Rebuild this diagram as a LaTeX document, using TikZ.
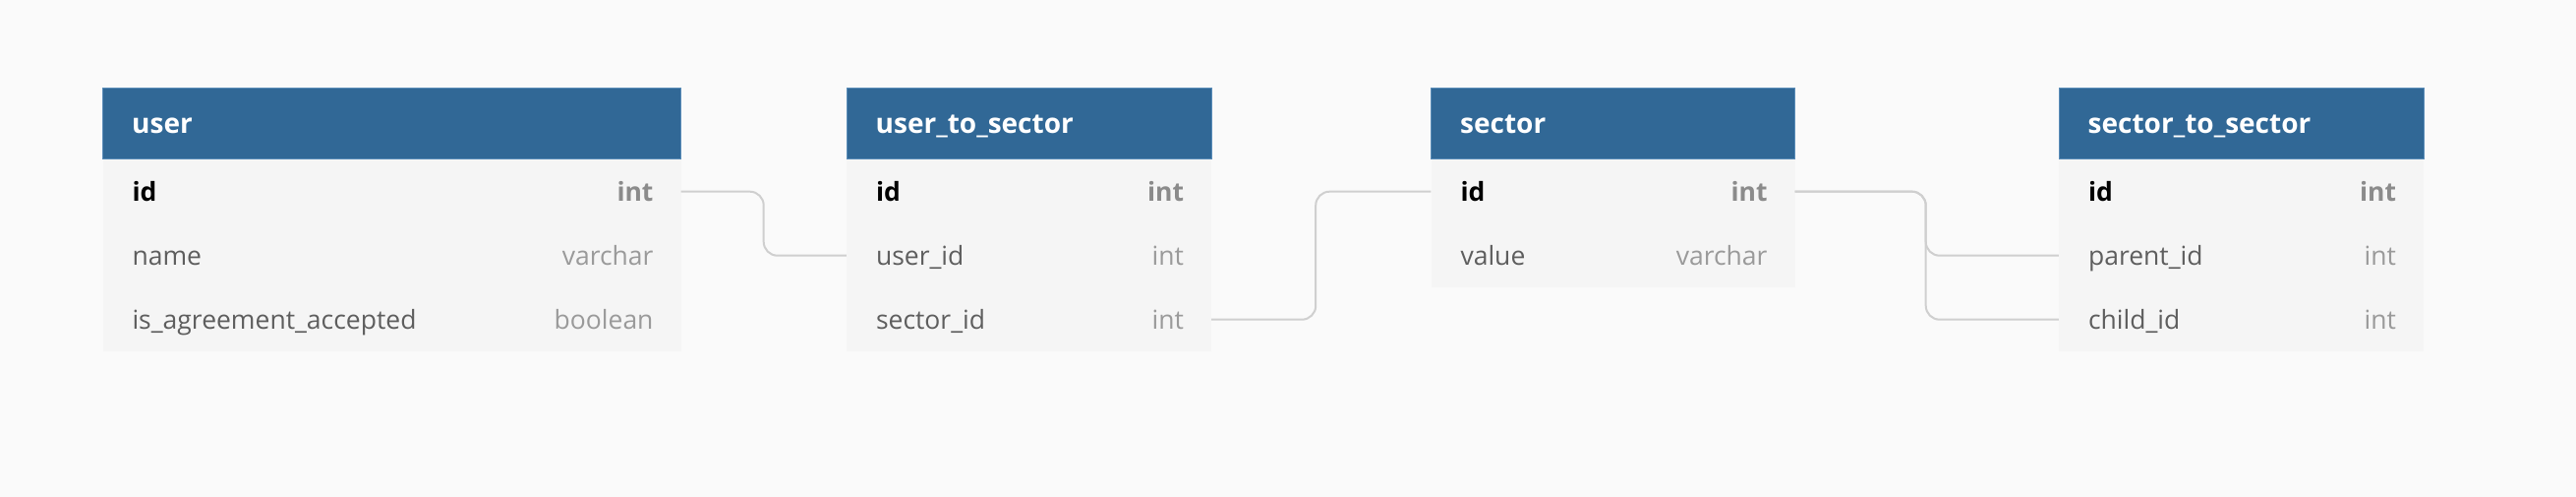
\documentclass[tikz,border=0pt]{standalone}
\usepackage{fontspec}
\setmainfont{Open Sans}
\usetikzlibrary{positioning}
\definecolor{bgx}{HTML}{FAFAFA}
\definecolor{hdx}{HTML}{316896}
\definecolor{hdl}{HTML}{5A8CB8}
\definecolor{rwx}{HTML}{F5F5F5}
\definecolor{lnx}{HTML}{CFCFCF}
\definecolor{nmx}{HTML}{5E5E5E}
\definecolor{tpx}{HTML}{9A9A9A}
\tikzset{
    thead/.style={fill=hdx,draw=hdl,line width=1pt,inner sep=0pt,minimum height=72pt,anchor=north west},
    trow/.style={fill=rwx,inner sep=0pt,minimum height=65pt,anchor=north},
    ttitle/.style={anchor=base west,inner sep=0pt,text=white,font=\fontsize{28}{32}\selectfont\bfseries},
    fname/.style={anchor=base west,inner sep=0pt,text=nmx,font=\fontsize{26.5}{30}\selectfont},
    ftype/.style={anchor=base east,inner sep=0pt,text=tpx,font=\fontsize{26.5}{30}\selectfont},
    pkname/.style={fname,text=black,font=\fontsize{26.5}{30}\selectfont\bfseries},
    pktype/.style={ftype,text=tpx!90!black,font=\fontsize{26.5}{30}\selectfont\bfseries},
    link/.style={draw=lnx,line width=2pt,rounded corners=14pt}
}

\begin{document}
\begin{tikzpicture}[x=1pt,y=-1pt]
    \fill [bgx] (0,0) rectangle (2620,505);
    % user
    \node [thead,minimum width=588pt] (user) at (104,89) {};
    \node [ttitle] (user-title) at ([xshift=30pt,yshift=-10pt]user.west) {user};
    \node [trow,minimum width=588pt] (user-1) at (user.south) {};
    \node [pkname] (user-1-n) at ([xshift=30pt,yshift=-10pt]user-1.west) {id};
    \node [pktype] (user-1-t) at ([xshift=-28pt,yshift=-10pt]user-1.east) {int};
    \foreach \nm/\ty [count=\i from 2] in {name/varchar,is\_agreement\_accepted/boolean} {
        \node [trow,minimum width=588pt] (user-\i) at ([yshift={-65pt*(\i-1)}]user.south) {};
        \node [fname] (user-\i-n) at ([xshift=30pt,yshift=-10pt]user-\i.west) {\nm};
        \node [ftype] (user-\i-t) at ([xshift=-28pt,yshift=-10pt]user-\i.east) {\ty};
    }
    % user_to_sector
    \node [thead,minimum width=371pt] (uts) at (860.5,89) {};
    \node [ttitle] (uts-title) at ([xshift=30pt,yshift=-10pt]uts.west) {user\_to\_sector};
    \node [trow,minimum width=371pt] (uts-1) at (uts.south) {};
    \node [pkname] (uts-1-n) at ([xshift=30pt,yshift=-10pt]uts-1.west) {id};
    \node [pktype] (uts-1-t) at ([xshift=-28pt,yshift=-10pt]uts-1.east) {int};
    \foreach \nm/\ty [count=\i from 2] in {user\_id/int,sector\_id/int} {
        \node [trow,minimum width=371pt] (uts-\i) at ([yshift={-65pt*(\i-1)}]uts.south) {};
        \node [fname] (uts-\i-n) at ([xshift=30pt,yshift=-10pt]uts-\i.west) {\nm};
        \node [ftype] (uts-\i-t) at ([xshift=-28pt,yshift=-10pt]uts-\i.east) {\ty};
    }
    % sector
    \node [thead,minimum width=370pt] (sector) at (1455,89) {};
    \node [ttitle] (sector-title) at ([xshift=30pt,yshift=-10pt]sector.west) {sector};
    \node [trow,minimum width=370pt] (sector-1) at (sector.south) {};
    \node [pkname] (sector-1-n) at ([xshift=30pt,yshift=-10pt]sector-1.west) {id};
    \node [pktype] (sector-1-t) at ([xshift=-28pt,yshift=-10pt]sector-1.east) {int};
    \node [trow,minimum width=370pt] (sector-2) at ([yshift=-65pt]sector.south) {};
    \node [fname] (sector-2-n) at ([xshift=30pt,yshift=-10pt]sector-2.west) {value};
    \node [ftype] (sector-2-t) at ([xshift=-28pt,yshift=-10pt]sector-2.east) {varchar};
    % sector_to_sector
    \node [thead,minimum width=371pt] (sts) at (2093.5,89) {};
    \node [ttitle] (sts-title) at ([xshift=30pt,yshift=-10pt]sts.west) {sector\_to\_sector};
    \node [trow,minimum width=371pt] (sts-1) at (sts.south) {};
    \node [pkname] (sts-1-n) at ([xshift=30pt,yshift=-10pt]sts-1.west) {id};
    \node [pktype] (sts-1-t) at ([xshift=-28pt,yshift=-10pt]sts-1.east) {int};
    \foreach \nm/\ty [count=\i from 2] in {parent\_id/int,child\_id/int} {
        \node [trow,minimum width=371pt] (sts-\i) at ([yshift={-65pt*(\i-1)}]sts.south) {};
        \node [fname] (sts-\i-n) at ([xshift=30pt,yshift=-10pt]sts-\i.west) {\nm};
        \node [ftype] (sts-\i-t) at ([xshift=-28pt,yshift=-10pt]sts-\i.east) {\ty};
    }
    % refs
    \draw [link] (user-1.east) -- ++(84,0) |- (uts-2.west);
    \draw [link] (uts-3.east) -- ++(106,0) |- (sector-1.west);
    \draw [link] (sector-1.east) -- ++(133,0) |- (sts-2.west);
    \draw [link] (sector-1.east) -- ++(133,0) |- (sts-3.west);
\end{tikzpicture}
\end{document}
